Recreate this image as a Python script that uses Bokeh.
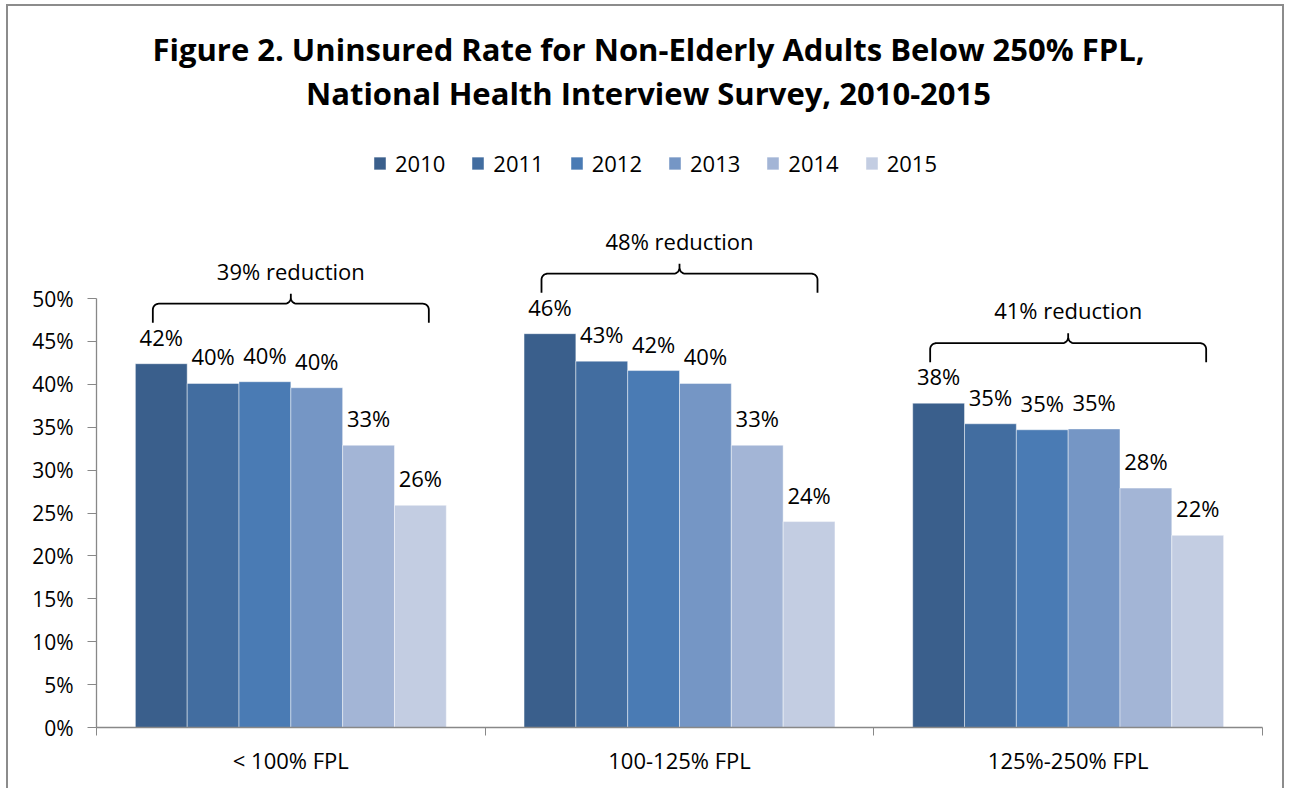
from bokeh.plotting import figure
from bokeh.models import Range1d, FixedTicker, Legend, LegendItem, ColumnDataSource
from bokeh.core.properties import value
from bokeh.embed import file_html
from bokeh.resources import INLINE
import math

# ---------------- data ----------------
categories = ["< 100% FPL", "100-125% FPL", "125%-250% FPL"]
years = ["2010", "2011", "2012", "2013", "2014", "2015"]
y2010 = [42.4, 45.9, 37.8]
y2011 = [40.1, 42.7, 35.4]
y2012 = [40.3, 41.6, 34.7]
y2013 = [39.6, 40.1, 34.8]
y2014 = [32.9, 32.9, 27.9]
y2015 = [25.9, 24.0, 22.4]
series = [y2010, y2011, y2012, y2013, y2014, y2015]
reductions = ["39% reduction", "48% reduction", "41% reduction"]
y_ticks = [0, 5, 10, 15, 20, 25, 30, 35, 40, 45, 50]
title_lines = ["Figure 2. Uninsured Rate for Non-Elderly Adults Below 250% FPL,",
               "National Health Interview Survey, 2010-2015"]

# ---------------- styles / layout ----------------
colors = ["#3A5F8C", "#426DA0", "#4A7BB4", "#7596C5", "#A3B5D6", "#C3CDE2"]
FONT = "Open Sans"
OX, OY = 8, 6                 # canvas origin on the page (margin + border)
W, H = 1278, 784
FRAME_L, FRAME_R, FRAME_B = 96, 1262, 727   # page coords
ML = FRAME_L - OX
MR = OX + W - FRAME_R
MT = 0
MB = OY + H - FRAME_B
frame_w = FRAME_R - FRAME_L
frame_h = FRAME_B - OY
PX_PER_PCT = 8.58
y_end = frame_h / PX_PER_PCT
PX_X = frame_w / 3.0
BASE_FIX = 0.41               # em correction for alphabetic baseline

def page_y(py):
    return (FRAME_B - py) / PX_PER_PCT

def page_x(px):
    return (px - FRAME_L) / PX_X

p = figure(width=W, height=H, output_backend="svg", toolbar_location=None,
           x_range=Range1d(0, 3), y_range=Range1d(0, y_end),
           min_border_left=ML, min_border_right=MR, min_border_top=MT,
           min_border_bottom=MB)
p.styles = {"margin-left": "6px", "margin-top": "4px",
            "border-left": "2px solid #8C8C8C", "border-top": "2px solid #8C8C8C",
            "border-right": "2px solid #8C8C8C"}
p.outline_line_color = None
p.xgrid.visible = False
p.ygrid.visible = False
p.background_fill_color = "white"
p.border_fill_color = "white"

# axes
axis_col = "#888888"
p.yaxis.ticker = FixedTicker(ticks=y_ticks)
p.yaxis.major_label_overrides = {t: f"{t}%" for t in y_ticks}
p.yaxis.bounds = (0, 50)
p.yaxis.major_tick_out = 9
p.yaxis.major_tick_in = 0
p.yaxis.minor_tick_out = 0
p.yaxis.minor_tick_in = 0
p.yaxis.axis_line_color = axis_col
p.yaxis.axis_line_width = 1.3
p.yaxis.major_tick_line_color = axis_col
p.yaxis.major_label_text_font = FONT
p.yaxis.major_label_text_font_size = "21px"
p.yaxis.major_label_text_color = "black"
p.yaxis.major_label_standoff = 14

centers = [i + 0.5 for i in range(len(categories))]
p.xaxis.ticker = FixedTicker(ticks=centers, minor_ticks=list(range(len(categories) + 1)))
p.xaxis.major_label_overrides = {c: lab for c, lab in zip(centers, categories)}
p.xaxis.major_tick_out = 0
p.xaxis.major_tick_in = 0
p.xaxis.minor_tick_out = 8
p.xaxis.minor_tick_in = 0
p.xaxis.axis_line_color = axis_col
p.xaxis.axis_line_width = 1.3
p.xaxis.minor_tick_line_color = axis_col
p.xaxis.major_label_text_font = FONT
p.xaxis.major_label_text_font_size = "22px"
p.xaxis.major_label_text_color = "black"
p.xaxis.major_label_standoff = 9

# bars
n = len(years)
bw = 0.8 / n
LABEL_FS = 22
items = []
for k, (yr, vals, col) in enumerate(zip(years, series, colors)):
    xs = [g + 0.1 + (k + 0.5) * bw for g in range(len(categories))]
    src = ColumnDataSource(dict(x=xs, top=vals, lab=[f"{round(v)}%" for v in vals]))
    r = p.vbar(x="x", top="top", width=bw, source=src, fill_color=col,
               line_color="white", line_alpha=0.45, line_width=1)
    p.text(x="x", y="top", text="lab", source=src, text_align="center",
           text_baseline="alphabetic", y_offset=-(18 + BASE_FIX * LABEL_FS),
           text_font=value(FONT), text_font_size=f"{LABEL_FS}px", text_color="black")
    items.append(LegendItem(label=yr, renderers=[r]))

legend = Legend(items=items, orientation="horizontal",
                location=(372 - FRAME_L, (FRAME_B - 164) - 14),
                glyph_width=15, glyph_height=16, label_standoff=8, spacing=25,
                padding=0, margin=0, border_line_color=None,
                background_fill_alpha=0, label_text_font=FONT,
                label_text_font_size="22px", label_text_color="black")
p.add_layout(legend, "center")

# braces
half = 138.0   # px
rise = 19.0    # px
tip = 10.0     # px
rad = 6.0
def brace_pts():
    pts = [(-half, -rise), (-half, -rad)]
    for t in range(0, 91, 10):
        a = math.radians(t)
        pts.append((-half + rad - rad * math.cos(a), -rad + rad * math.sin(a)))
    pts.append((-rad, 0))
    for t in range(0, 91, 10):
        a = math.radians(t)
        pts.append((-rad + rad * math.sin(a), rad - rad * math.cos(a)))
    pts.append((0, tip))
    right = [(-x, y) for (x, y) in reversed(pts)]
    return pts + right

bp = brace_pts()
bx, by, tx, ty = [], [], [], []
for g in range(len(categories)):
    gmax = max(s[g] for s in series)
    base_y = gmax + (41.0 + rise) / PX_PER_PCT   # y of horizontal line
    cx = g + 0.5
    bx.append([cx + x / PX_X for x, _ in bp])
    by.append([base_y + y / PX_PER_PCT for _, y in bp])
    tx.append(cx)
    ty.append(base_y + tip / PX_PER_PCT)
p.multi_line(xs=bx, ys=by, line_color="black", line_width=1.8)
p.text(x=tx, y=ty, text=reductions, text_align="center", text_baseline="alphabetic",
       y_offset=-(14 + BASE_FIX * 22), text_font=value(FONT), text_font_size="22px",
       text_color="black")

# title
TITLE_FS = 31
title_baselines = [61, 105]
p.text(x=[page_x(648)] * 2,
       y=[page_y(b - BASE_FIX * TITLE_FS) for b in title_baselines],
       text=title_lines, text_align="center", text_baseline="alphabetic",
       text_font=value(FONT), text_font_style="bold", text_font_size=f"{TITLE_FS}px",
       text_color="black")

open("out.html", "w").write(file_html(p, INLINE))
